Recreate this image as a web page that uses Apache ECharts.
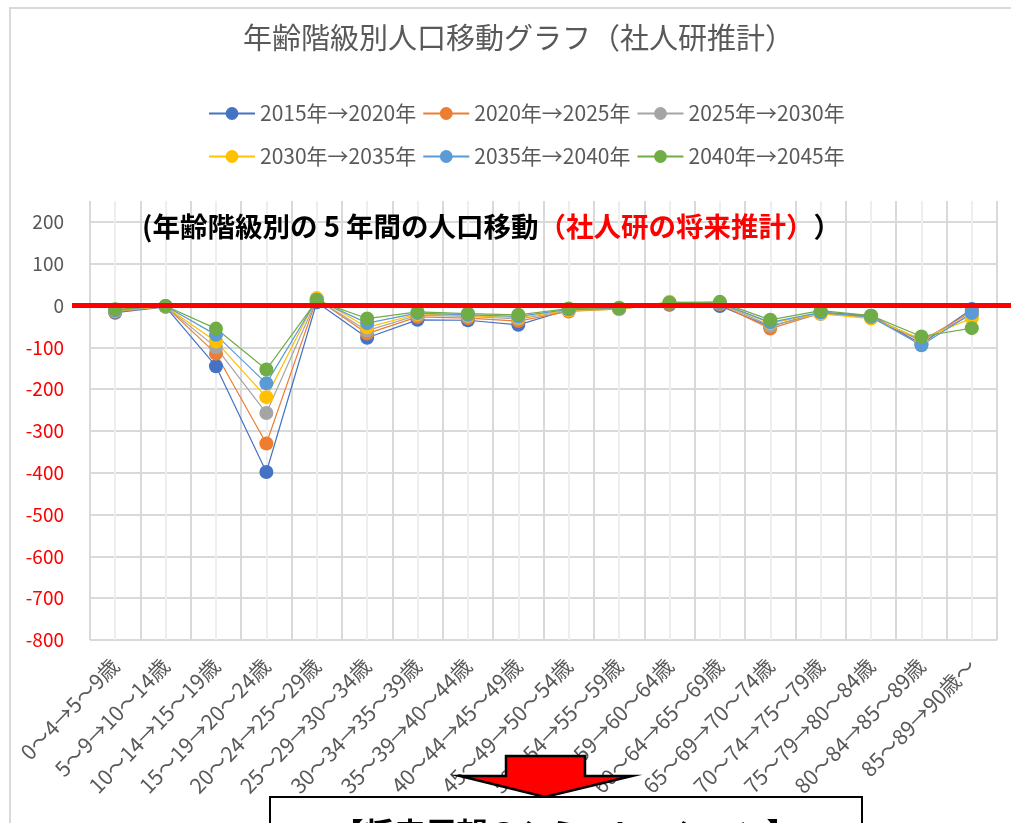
<!DOCTYPE html>
<html>
<head>
<meta charset="utf-8">
<script src="https://cdn.jsdelivr.net/npm/echarts@6/dist/echarts.min.js"></script>
<style>
  html, body { margin: 0; padding: 0; background: #fff; }
  #main { width: 1011px; height: 823px; }
</style>
</head>
<body>
<div id="main"></div>
<script>
// 年齢階級（5年後の移動）
const categories = [
  '0～4→5～9歳', '5～9→10～14歳', '10～14→15～19歳', '15～19→20～24歳',
  '20～24→25～29歳', '25～29→30～34歳', '30～34→35～39歳', '35～39→40～44歳',
  '40～44→45～49歳', '45～49→50～54歳', '50～54→55～59歳', '55～59→60～64歳',
  '60～64→65～69歳', '65～69→70～74歳', '70～74→75～79歳', '75～79→80～84歳',
  '80～84→85～89歳', '85～89→90歳～'
]
const seriesNames = ['2015年→2020年', '2020年→2025年', '2025年→2030年',
  '2030年→2035年', '2035年→2040年', '2040年→2045年']
const colors = ['#4472C4', '#ED7D31', '#A5A5A5', '#FFC000', '#5B9BD5', '#70AD47']

const s2015 = [-17, -3, -145, -398, 8, -77, -34, -35, -46, -10, -7, 2, -1, -50, -16, -24, -92, -8]
const s2020 = [-15, -2, -115, -330, 16, -67, -27, -30, -37, -14, -8, 4, 3, -55, -18, -26, -85, -14]
const s2025 = [-13, -2, -100, -257, 15, -60, -23, -26, -32, -12, -8, 6, 5, -48, -20, -28, -82, -22]
const s2030 = [-12, -2, -86, -219, 18, -52, -20, -24, -29, -11, -9, 9, 6, -42, -19, -31, -80, -30]
const s2035 = [-11, -1, -70, -186, 14, -42, -18, -22, -26, -9, -7, 6, 6, -40, -16, -27, -95, -18]
const s2040 = [-9, -1, -55, -153, 12, -31, -15, -19, -22, -7, -5, 7, 9, -34, -12, -24, -74, -54]
const seriesData = [s2015, s2020, s2025, s2030, s2035, s2040]

const yTicks = { min: -800, max: 200, step: 100 }

const font = '"Noto Sans CJK JP", "Noto Sans", sans-serif'
const gray = '#595959'

var myChart = echarts.init(document.getElementById('main'))

var option = {
  animation: false,
  textStyle: { fontFamily: font },
  title: {
    text: '年齢階級別人口移動グラフ（社人研推計）',
    left: 238,
    top: 18,
    textStyle: { fontSize: 29, fontWeight: 'normal', color: gray, fontFamily: font }
  },
  legend: [
    {
      data: seriesNames.slice(0, 3),
      top: 98, left: 203,
      itemWidth: 46, itemHeight: 16, itemGap: 6,
      textStyle: { fontSize: 21, color: gray }
    },
    {
      data: seriesNames.slice(3),
      top: 141, left: 203,
      itemWidth: 46, itemHeight: 16, itemGap: 6,
      textStyle: { fontSize: 21, color: gray }
    }
  ],
  grid: [
    { left: 90, right: 14, top: 222, bottom: 183 },
    { left: 90, right: 14, top: 201, bottom: 183 }
  ],
  xAxis: [
    {
      type: 'category', gridIndex: 0, data: categories, boundaryGap: true,
      axisLine: { show: false }, axisTick: { show: false }, splitLine: { show: false },
      axisLabel: { rotate: 46, interval: 0, margin: 22, fontSize: 21, color: gray }
    },
    {
      // 中央の細い補助線
      type: 'value', gridIndex: 1, min: 0, max: categories.length * 2, interval: 1,
      axisLine: { show: false }, axisTick: { show: false }, axisLabel: { show: false },
      splitLine: { show: true, lineStyle: { color: '#eeeeee', width: 2 } }
    },
    {
      type: 'category', gridIndex: 1, data: categories, boundaryGap: true,
      axisLine: { show: false }, axisTick: { show: false }, axisLabel: { show: false },
      splitLine: { show: true, interval: 0, lineStyle: { color: '#d9d9d9', width: 2 } }
    }
  ],
  yAxis: [
    {
      type: 'value', gridIndex: 0, min: yTicks.min, max: yTicks.max, interval: yTicks.step,
      axisLine: { show: false }, axisTick: { show: false },
      splitLine: { lineStyle: { color: '#d9d9d9', width: 2 } },
      axisLabel: {
        margin: 26, fontSize: 19,
        color: function (v) { return Number(v) < 0 ? '#FF0000' : gray }
      }
    },
    { type: 'value', gridIndex: 1, min: 0, max: 1, show: false }
  ],
  series: seriesNames.map(function (name, i) {
    return {
      name: name,
      type: 'line',
      xAxisIndex: 0, yAxisIndex: 0,
      data: seriesData[i],
      symbol: 'circle',
      symbolSize: 14,
      color: colors[i],
      lineStyle: { width: 1.2, color: colors[i] },
      itemStyle: { color: colors[i] },
      emphasis: { disabled: true }
    }
  })
}

myChart.setOption(option)

// ゼロの赤線と注記
const zeroY = myChart.convertToPixel({ yAxisIndex: 0 }, 0)

myChart.setOption({
  graphic: [
    {
      type: 'rect', silent: true, z: -10,
      shape: { x: 10, y: 8, width: 1100, height: 900 },
      style: { fill: 'none', stroke: '#d9d9d9', lineWidth: 2 }
    },
    {
      type: 'line', silent: true, z: 100,
      shape: { x1: 72, y1: zeroY, x2: 1011, y2: zeroY },
      style: { stroke: '#FF0000', lineWidth: 5 }
    },
    {
      type: 'text', silent: true, z: 100,
      left: 142, top: 213,
      style: {
        text: '{b|(年齢階級別の 5 年間の人口移動}{r|（社人研の将来推計）}{b|）}',
        rich: {
          b: { fontSize: 27.5, fontWeight: 'bold', fill: '#000', fontFamily: font },
          r: { fontSize: 27.5, fontWeight: 'bold', fill: '#FF0000', fontFamily: font }
        }
      }
    },
    {
      type: 'polygon', silent: true, z: 100,
      shape: { points: [[506, 756], [585, 756], [585, 776], [632, 776], [545, 797], [460, 776], [506, 776]] },
      style: { fill: '#FF0000', stroke: '#000', lineWidth: 2.5 }
    },
    {
      type: 'rect', silent: true, z: 100,
      shape: { x: 270, y: 797, width: 592, height: 80 },
      style: { fill: '#fff', stroke: '#000', lineWidth: 2 }
    },
    {
      type: 'text', silent: true, z: 101,
      x: 565, y: 833,
      style: {
        text: '【将来展望のシミュレーション】',
        fontSize: 31, fontWeight: 'bold', fill: '#000', fontFamily: font,
        align: 'center', verticalAlign: 'middle'
      }
    }
  ]
})
</script>
</body>
</html>
